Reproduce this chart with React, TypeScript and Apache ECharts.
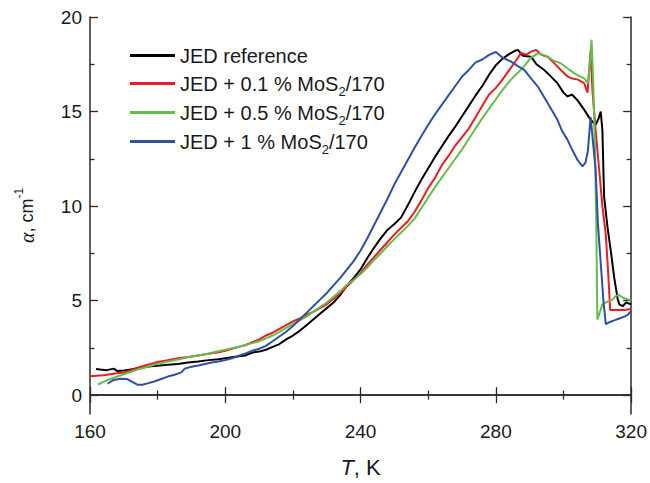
import React, { useEffect, useRef } from "react";
import * as echarts from "echarts";

const FONT = "'Liberation Sans', Arial, Helvetica, sans-serif";
const TEXT = "#1a1a1a";
const AXIS = "#2b2b2b";

const seriesNames = [
  "JED reference",
  "JED + 0.1 % MoS2/170",
  "JED + 0.5 % MoS2/170",
  "JED + 1 % MoS2/170",
];
const seriesColors = ["#000000", "#ea1d24", "#63bd48", "#3050a6"];

const xMin = 160;
const xMax = 320;
const xStep = 40;
const yMin = -1;
const yMax = 20;
const yLabelValues = [0, 5, 10, 15, 20];
const yMinorValues = [2.5, 7.5, 12.5, 17.5];

// JED reference
const refT = [
  161.8, 163, 165, 167, 168, 170, 172, 175, 178, 180,
  183, 186, 189, 192, 195, 198, 200, 202, 204, 206,
  208, 210, 212, 214, 216, 218, 220, 222, 224, 226,
  228, 230, 232, 234, 236, 238, 240, 242, 244, 246,
  248, 250, 252, 254, 256, 258, 260, 262, 264, 266,
  268, 270, 272, 274, 276, 278, 280, 282, 284, 285.5,
  286.5, 288, 290.4, 292, 294.3, 296, 298.2, 300, 301.2, 302.5,
  304.1, 306.1, 308, 309.5, 310.3, 311, 311.5, 312, 313, 314,
  315, 316, 316.5, 317.5, 318.5, 320,
];
const refA = [
  1.38, 1.35, 1.32, 1.4, 1.28, 1.3, 1.35, 1.45, 1.52, 1.55,
  1.6, 1.65, 1.72, 1.78, 1.85, 1.9, 1.95, 2.0, 2.05, 2.1,
  2.25, 2.3, 2.4, 2.55, 2.7, 2.95, 3.15, 3.4, 3.7, 4.0,
  4.3, 4.6, 4.9, 5.3, 5.8, 6.2, 6.65, 7.25, 7.8, 8.3,
  8.75, 9.05, 9.4, 10.05, 10.75, 11.4, 12.0, 12.6, 13.15, 13.7,
  14.2, 14.75, 15.3, 15.85, 16.35, 16.95, 17.45, 17.8, 18.05, 18.2,
  18.26, 17.95, 17.9, 17.5, 17.2, 16.9, 16.5, 16.0, 15.8, 15.9,
  15.6, 15.1, 14.56, 14.3, 14.6, 15.0, 14.0, 10.5, 8.9, 7.6,
  6.2, 5.1, 4.8, 4.7, 4.9, 4.8,
];

// JED + 0.1 % MoS2/170
const redT = [
  160, 162, 164, 166, 168, 170, 172, 174, 176, 178,
  180, 183, 186, 189, 192, 195, 198, 200, 202, 204,
  206, 208, 210, 212, 214, 216, 218, 220, 222, 224,
  226, 228, 230, 232, 234, 236, 238, 240, 242, 244,
  246, 248, 250, 252, 254, 256, 258, 260, 262, 264,
  266, 268, 270, 272, 274, 276, 278, 280, 282, 284,
  286, 287.5, 289, 290.4, 291.9, 293.5, 295.3, 297, 299.2, 301.2,
  302.5, 304.1, 306.1, 307.1, 308, 308.6, 309.5, 310.5, 311.5, 312.5,
  313.2, 313.8, 315, 316, 318, 320,
];
const redA = [
  1.0, 1.02, 1.05, 1.1, 1.15, 1.2, 1.3, 1.45, 1.55, 1.65,
  1.75, 1.85, 1.95, 2.02, 2.1, 2.18, 2.27, 2.35, 2.45, 2.55,
  2.65, 2.8, 2.95, 3.15, 3.3, 3.5, 3.7, 3.9, 4.05, 4.25,
  4.4, 4.6, 4.8, 5.1, 5.4, 5.75, 6.1, 6.45, 6.9, 7.3,
  7.7, 8.1, 8.5, 8.85, 9.2, 9.7, 10.3, 10.95, 11.5, 12.15,
  12.65, 13.2, 13.65, 14.1, 14.7, 15.3, 15.9, 16.25, 16.7, 17.2,
  17.7, 18.1, 18.0, 18.17, 18.26, 18.0, 17.9, 17.6, 17.2, 16.85,
  16.75, 16.7, 16.5, 16.0, 18.2, 16.0, 14.0, 12.0, 10.0, 8.5,
  6.5, 4.5, 4.5, 4.5, 4.5, 4.55,
];

// JED + 0.5 % MoS2/170
const greenT = [
  162.4, 164, 166, 168, 170, 172, 174, 176, 178, 180,
  183, 186, 189, 192, 195, 198, 200, 202, 204, 206,
  208, 210, 212, 214, 216, 218, 220, 222, 224, 226,
  228, 230, 232, 234, 236, 238, 240, 242, 244, 246,
  248, 250, 252, 254, 256, 258, 260, 262, 264, 266,
  268, 270, 272, 274, 276, 278, 280, 282, 284.5, 286.5,
  288.4, 290.4, 292.4, 294, 295.3, 297, 299.2, 301, 303.1, 305,
  306.1, 307.2, 307.8, 308.3, 308.8, 309.3, 309.7, 310, 310.6, 311.5,
  312.5, 313.5, 314.5, 315.5, 316.5, 317.5, 318.5, 320,
];
const greenA = [
  0.56, 0.7, 0.85, 0.98, 1.1, 1.22, 1.35, 1.45, 1.55, 1.65,
  1.78, 1.88, 2.0, 2.1, 2.2, 2.32, 2.4, 2.48, 2.56, 2.65,
  2.75, 2.85, 3.0, 3.15, 3.35, 3.55, 3.75, 3.95, 4.15, 4.4,
  4.65, 4.9, 5.2, 5.5, 5.85, 6.1, 6.4, 6.75, 7.15, 7.5,
  7.9, 8.25, 8.6, 8.95, 9.35, 9.9, 10.45, 11.0, 11.5, 12.0,
  12.5, 13.0, 13.55, 14.1, 14.65, 15.15, 15.65, 16.15, 16.7, 17.05,
  17.4, 17.85, 18.08, 18.0, 17.9, 17.7, 17.55, 17.3, 17.03, 16.85,
  16.76, 16.5, 17.5, 18.8, 16.5, 13.0, 9.0, 4.0, 4.3, 4.8,
  4.9, 5.0, 5.05, 5.25, 5.3, 5.15, 5.1, 5.0,
];

// JED + 1 % MoS2/170
const blueT = [
  165.2, 167, 169, 171, 172.5, 174, 175.5, 177, 179, 181,
  183, 185, 187, 188, 190, 192, 194, 196, 198, 200,
  202, 204, 206, 208, 210, 212, 214, 216, 218, 220,
  222, 224, 226, 228, 230, 232, 234, 236, 238, 240,
  242, 244, 246, 248, 250, 252, 254, 256, 258, 260,
  262, 264, 266, 268, 270, 272, 274, 276, 278, 280,
  282, 284.5, 286.5, 288.4, 290.4, 292.4, 295.3, 298.2, 299.5, 301.2,
  302.5, 304.1, 305.6, 306.5, 307.2, 308, 308.5, 309.5, 310.2, 311,
  311.8, 312.5, 313.5, 315, 316.5, 318, 319, 320,
];
const blueA = [
  0.6, 0.8, 0.87, 0.85, 0.7, 0.55, 0.55, 0.62, 0.72, 0.85,
  0.98, 1.08, 1.2, 1.4, 1.5, 1.57, 1.65, 1.72, 1.78, 1.85,
  1.95, 2.08, 2.2, 2.35, 2.45, 2.6, 2.85, 3.1, 3.35, 3.65,
  4.0, 4.35, 4.7, 5.05, 5.4, 5.8, 6.2, 6.65, 7.1, 7.65,
  8.3, 9.0, 9.7, 10.4, 11.15, 11.8, 12.45, 13.1, 13.7, 14.3,
  14.85, 15.35, 15.85, 16.35, 16.85, 17.2, 17.6, 17.75, 18.0, 18.15,
  17.85, 17.64, 17.4, 17.2, 16.75, 16.32, 15.45, 14.56, 14.0, 13.5,
  13.0, 12.45, 12.1, 12.3, 12.9, 14.7, 13.8, 11.9, 9.0, 7.0,
  5.0, 3.75, 3.85, 3.95, 4.05, 4.15, 4.25, 4.45,
];

const seriesT = [refT, redT, greenT, blueT];
const seriesA = [refA, redA, greenA, blueA];

function pairs(t: number[], a: number[]): number[][] {
  const n = Math.min(t.length, a.length);
  const out: number[][] = [];
  for (let i = 0; i < n; i++) out.push([t[i], a[i]]);
  return out;
}

function legendFormatter(name: string): string {
  const m = name.match(/^(.*MoS)2(\/.*)$/);
  if (m) return `{a|${m[1]}}{s|2}{a|${m[2]}}`;
  return `{a|${name}}`;
}

const axisLine = { show: true, lineStyle: { color: AXIS, width: 1.5 } };
const tickLine = { color: AXIS, width: 1.3 };

export default function App() {
  const ref = useRef<HTMLDivElement>(null);

  useEffect(() => {
    if (!ref.current) return;
    const chart = echarts.init(ref.current, undefined, { renderer: "svg" });

    const xCommon = {
      type: "value" as const,
      min: xMin,
      max: xMax,
      interval: xStep,
      splitLine: { show: false },
      axisLine,
      axisTick: { show: true, inside: true, length: 8, lineStyle: tickLine },
      minorTick: { show: true, splitNumber: 2, length: 4.5, lineStyle: tickLine },
    };

    const yCommon = {
      type: "value" as const,
      min: yMin,
      max: yMax,
      splitLine: { show: false },
    };

    chart.setOption({
      animation: false,
      backgroundColor: "#ffffff",
      grid: { left: 90, right: 16, top: 17, bottom: 68 },
      legend: {
        orient: "vertical",
        left: 130,
        top: 42,
        padding: 0,
        itemGap: 0,
        itemWidth: 45,
        itemHeight: 3,
        icon: "rect",
        data: seriesNames,
        formatter: legendFormatter,
        textStyle: {
          color: TEXT,
          fontFamily: FONT,
          fontSize: 20,
          lineHeight: 27,
          rich: {
            a: { color: TEXT, fontFamily: FONT, fontSize: 20, lineHeight: 27 },
            s: {
              color: TEXT,
              fontFamily: FONT,
              fontSize: 13,
              lineHeight: 27,
              padding: [16, 0, 0, 0],
            },
          },
        },
      },
      xAxis: [
        {
          ...xCommon,
          position: "bottom",
          axisLabel: {
            show: true,
            margin: 8,
            fontSize: 19,
            color: TEXT,
            fontFamily: FONT,
          },
          name: "{i|T}{n|, K}",
          nameLocation: "middle",
          nameGap: 42,
          nameTextStyle: {
            rich: {
              i: { fontSize: 22, fontStyle: "italic", fontFamily: FONT, color: TEXT },
              n: { fontSize: 22, fontFamily: FONT, color: TEXT },
            },
          },
        },
        {
          ...xCommon,
          position: "top",
          axisLabel: { show: false },
        },
      ],
      yAxis: [
        {
          ...yCommon,
          position: "left",
          axisLine,
          axisTick: {
            show: true,
            inside: true,
            length: 8,
            customValues: yLabelValues,
            lineStyle: tickLine,
          },
          axisLabel: {
            show: true,
            customValues: yLabelValues,
            margin: 8,
            fontSize: 19,
            color: TEXT,
            fontFamily: FONT,
          },
          name: "{i|α}{n|, cm}{p|-1}",
          nameLocation: "middle",
          nameRotate: 90,
          nameGap: 51,
          nameTextStyle: {
            rich: {
              i: {
                fontSize: 20,
                fontStyle: "italic",
                fontFamily: "'Liberation Serif', 'Times New Roman', serif",
                color: TEXT,
                lineHeight: 24,
              },
              n: { fontSize: 18, fontFamily: FONT, color: TEXT, lineHeight: 24 },
              p: {
                fontSize: 12,
                fontFamily: FONT,
                color: TEXT,
                lineHeight: 24,
                padding: [0, 0, 16, 0],
              },
            },
          },
        },
        {
          ...yCommon,
          position: "left",
          axisLine: { show: false },
          axisTick: {
            show: true,
            inside: true,
            length: 4.5,
            customValues: yMinorValues,
            lineStyle: tickLine,
          },
          axisLabel: { show: false },
        },
        {
          ...yCommon,
          position: "right",
          axisLine,
          axisTick: {
            show: true,
            inside: true,
            length: 8,
            customValues: yLabelValues,
            lineStyle: tickLine,
          },
          axisLabel: { show: false },
        },
        {
          ...yCommon,
          position: "right",
          axisLine: { show: false },
          axisTick: {
            show: true,
            inside: true,
            length: 4.5,
            customValues: yMinorValues,
            lineStyle: tickLine,
          },
          axisLabel: { show: false },
        },
      ],
      series: seriesNames.map((name, i) => ({
        name,
        type: "line",
        xAxisIndex: 0,
        yAxisIndex: 0,
        data: pairs(seriesT[i], seriesA[i]),
        showSymbol: false,
        symbol: "none",
        lineStyle: { color: seriesColors[i], width: 2 },
        itemStyle: { color: seriesColors[i] },
        emphasis: { disabled: true },
      })),
    });

    return () => chart.dispose();
  }, []);

  return (
    <div
      ref={ref}
      style={{ position: "absolute", left: 0, top: 0, width: 650, height: 483 }}
    />
  );
}
